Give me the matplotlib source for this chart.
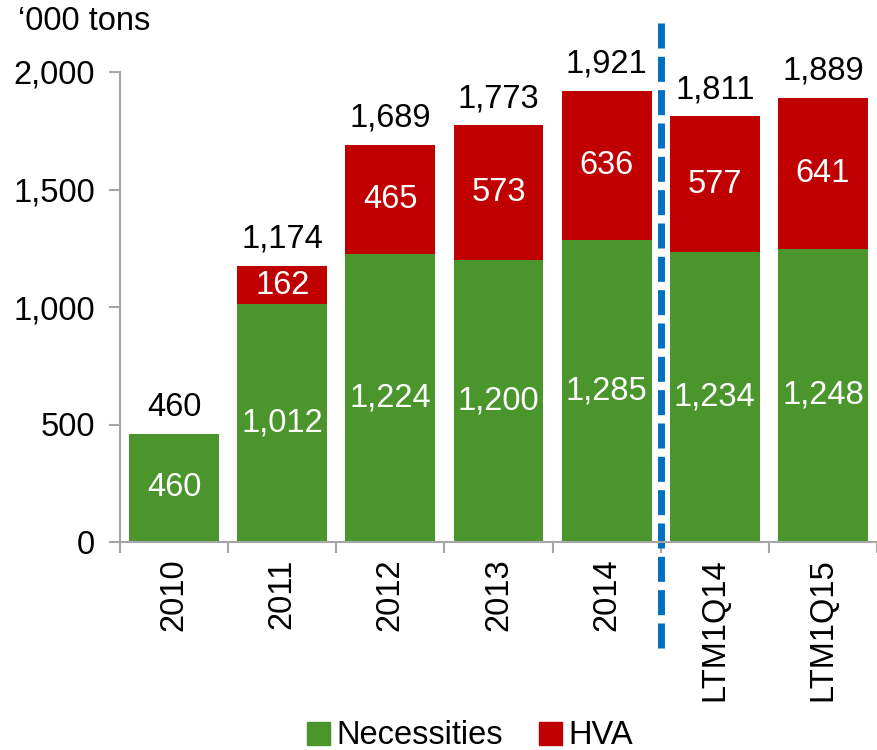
import matplotlib

matplotlib.use("Agg")
import matplotlib.pyplot as plt  # noqa: E402
from matplotlib.patches import Patch  # noqa: E402

categories = ["2010", "2011", "2012", "2013", "2014", "LTM1Q14", "LTM1Q15"]
necessities = [460, 1012, 1224, 1200, 1285, 1234, 1248]
hva = [0, 162, 465, 573, 636, 577, 641]
totals = [460, 1174, 1689, 1773, 1921, 1811, 1889]

GREEN = "#4A962D"
RED = "#C00000"
BLUE = "#0070C0"
SPINE = "#A6A6A6"

plt.rcParams["font.family"] = ["Liberation Sans", "DejaVu Sans"]
plt.rcParams["font.size"] = 23.5

fig = plt.figure(figsize=(8.78, 7.5), dpi=100)
ax = fig.add_axes([120 / 878, 208 / 750, 757 / 878, 470 / 750])

x = list(range(len(categories)))
width = 0.83
ax.bar(x, necessities, width=width, color=GREEN, label="Necessities")
ax.bar(x, hva, width=width, bottom=necessities, color=RED, label="HVA")

for i in x:
    ax.text(i, necessities[i] / 2, f"{necessities[i]:,}", color="white",
            ha="center", va="center")
    if hva[i]:
        ax.text(i, necessities[i] + hva[i] / 2, f"{hva[i]:,}", color="white",
                ha="center", va="center")
    ax.annotate(f"{totals[i]:,}", (i, totals[i]), xytext=(0, 8),
                textcoords="offset points", ha="center", va="bottom")

# separator between calendar years and LTM figures
ax.plot([4.5, 4.5], [-450, 2240], color=BLUE, lw=5, clip_on=False,
        dashes=(3.6, 1.2))

ax.set_ylim(0, 2000)
ax.set_xlim(-0.5, 6.445)
ax.set_yticks([0, 500, 1000, 1500, 2000])
ax.set_yticklabels([f"{v:,}" for v in [0, 500, 1000, 1500, 2000]])
ax.set_xticks(x)
ax.set_xticklabels(categories, rotation=90)
ax.set_xticks([i - 0.5 for i in range(len(categories) + 1)], minor=True)
ax.tick_params(axis="x", which="major", length=0, pad=12)
ax.tick_params(axis="x", which="minor", length=8, color=SPINE, width=1.5)
ax.tick_params(axis="y", length=8, color=SPINE, width=1.5, pad=10)

for side in ("top", "right"):
    ax.spines[side].set_visible(False)
for side in ("left", "bottom"):
    ax.spines[side].set_color(SPINE)
    ax.spines[side].set_linewidth(1.5)

fig.text(18 / 878, 1 - 22 / 750, "\u2018000 tons", ha="left", va="center")

handles = [Patch(color=GREEN, label="Necessities"), Patch(color=RED, label="HVA")]
fig.legend(handles=handles, loc="center", bbox_to_anchor=(470 / 878, 1 - 736 / 750),
           ncol=2, frameon=False, handlelength=0.7, handleheight=0.7,
           handletextpad=0.2, columnspacing=1.1, borderaxespad=0)

fig.savefig("out.png", dpi=100)
